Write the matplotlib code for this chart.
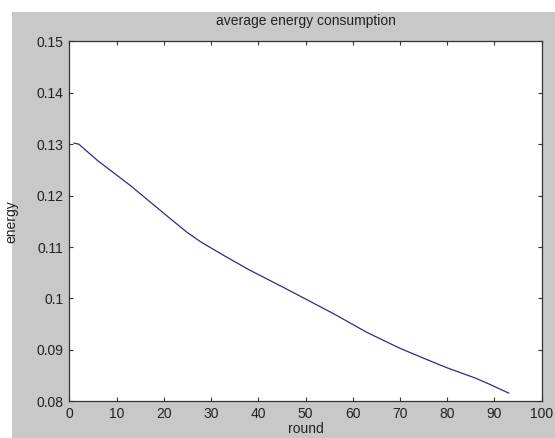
import numpy as np
import matplotlib.pyplot as plt
from matplotlib.patches import Rectangle

#------------- Data -----------------#
rounds = [1, 2, 6, 13, 21, 25, 28, 33, 38, 45, 50, 56, 63, 70, 76, 80, 86, 89, 93]
energy = [0.1302, 0.1300, 0.1268, 0.1219, 0.1158, 0.1128, 0.1109, 0.1082, 0.1056,
          0.1023, 0.0999, 0.0970, 0.0934, 0.0903, 0.0880, 0.0865, 0.0845, 0.0833, 0.0816]

xticks = [0, 10, 20, 30, 40, 50, 60, 70, 80, 90, 100]
yticks = [0.08, 0.09, 0.1, 0.11, 0.12, 0.13, 0.14, 0.15]
ytick_labels = ['0.08', '0.09', '0.1', '0.11', '0.12', '0.13', '0.14', '0.15']

plt.rcParams['font.family'] = ['Liberation Sans', 'DejaVu Sans']
plt.rcParams['font.size'] = 10

W, H = 555, 438
fig = plt.figure(figsize=(W / 100, H / 100), dpi=100, facecolor='white')
# grey window area (white strip on top and left)
fig.patches.append(Rectangle((12 / W, 0), 1 - 12 / W, 1 - 12 / H, transform=fig.transFigure,
                             facecolor='#c8c8c8', edgecolor='none', zorder=-10))

ax = fig.add_axes([69.3 / W, (H - 401.3) / H, 472.4 / W, 360 / H])
ax.set_facecolor('white')
ax.plot(rounds, energy, color='#2c2c88', linewidth=0.9)

ax.set_xlim(0, 100)
ax.set_ylim(0.08, 0.15)
ax.set_xticks(xticks)
ax.set_yticks(yticks)
ax.set_yticklabels(ytick_labels)
ax.tick_params(direction='in', length=3, width=0.8, color='#333333', labelcolor='#222222',
               top=True, right=True, pad=4, labelsize=10)
for s in ax.spines.values():
    s.set_color('#333333')
    s.set_linewidth(0.9)

ax.set_title('average energy consumption', fontsize=10, pad=12, color='#222222')
ax.set_xlabel('round', fontsize=10, color='#222222', labelpad=1)
ax.set_ylabel('energy', fontsize=10, color='#222222')
ax.yaxis.set_label_coords((18 - 69.3) / 472.4, 0.5)

plt.savefig('out.png', dpi=100, facecolor=fig.get_facecolor())
